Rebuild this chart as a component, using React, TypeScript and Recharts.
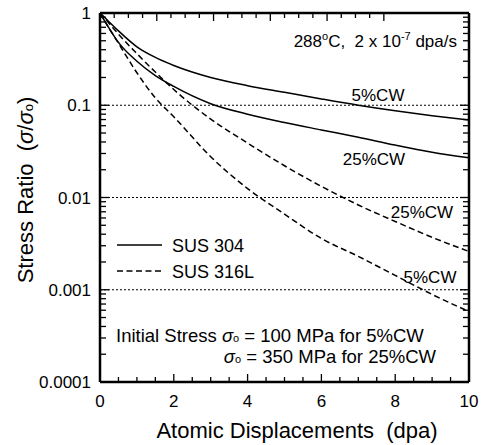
import React from 'react';
import { LineChart, Line, XAxis, YAxis, ReferenceLine } from 'recharts';

// Atomic displacements (dpa)
const dpa = [0, 0.25, 0.5, 1, 1.5, 2, 3, 4, 5, 6, 7, 8, 9, 10];
// Stress ratio σ/σo
const sus304_5cw = [1, 0.8, 0.64, 0.43, 0.33, 0.27, 0.2, 0.163, 0.138, 0.117, 0.1, 0.087, 0.077, 0.069];
const sus304_25cw = [1, 0.68, 0.48, 0.3, 0.21, 0.16, 0.104, 0.08, 0.065, 0.054, 0.045, 0.037, 0.031, 0.027];
const sus316l_25cw = [1, 0.77, 0.59, 0.363, 0.229, 0.148, 0.0708, 0.0389, 0.0221, 0.0132, 0.0083, 0.0055, 0.0037, 0.0026];
const sus316l_5cw = [1, 0.68, 0.47, 0.225, 0.12, 0.075, 0.0277, 0.0125, 0.0066, 0.0036, 0.0023, 0.00143, 0.00089, 0.00058];

const xTicks = [0, 0.5, 1, 1.5, 2, 2.5, 3, 3.5, 4, 4.5, 5, 5.5, 6, 6.5, 7, 7.5, 8, 8.5, 9, 9.5, 10];
const xLabels = [0, 2, 4, 6, 8, 10];
const yMajor = [0.0001, 0.001, 0.01, 0.1, 1];
const yLabels = ['0.0001', '0.001', '0.01', '0.1', '1'];
const yMinor = [
  0.0002, 0.0003, 0.0004, 0.0005, 0.0006, 0.0007, 0.0008, 0.0009,
  0.002, 0.003, 0.004, 0.005, 0.006, 0.007, 0.008, 0.009,
  0.02, 0.03, 0.04, 0.05, 0.06, 0.07, 0.08, 0.09,
  0.2, 0.3, 0.4, 0.5, 0.6, 0.7, 0.8, 0.9,
];
const dottedLevels = [0.1, 0.01, 0.001];

const data = dpa.map((x, i) => ({
  x,
  a: sus304_5cw[i],
  b: sus304_25cw[i],
  c: sus316l_25cw[i],
  d: sus316l_5cw[i],
}));

const yTicks = [...yMajor, ...yMinor].sort((p, q) => p - q);

const FONT = '"Liberation Sans", Arial, Helvetica, sans-serif';
const TICK = '#000';
const TW = 1.3;

const isMajorY = (v: number) => yMajor.some((m) => Math.abs(m - v) / m < 1e-6);

const bottomTick = (props: any) => {
  const x = Number(props.x);
  const y = Number(props.y);
  const v = props.payload.value;
  const major = xLabels.includes(v);
  return (
    <g key={`b${v}`}>
      <path d={`M${x},${y}V${y - (major ? 8 : 5)}`} stroke={TICK} strokeWidth={TW} fill="none" />
      {major && (
        <text x={x} y={y + 25} textAnchor="middle" fontSize={17} fontFamily={FONT} fill="#000">
          {v}
        </text>
      )}
    </g>
  );
};

const topTick = (props: any) => {
  const x = Number(props.x);
  const y = Number(props.y);
  const major = xLabels.includes(props.payload.value);
  return <path key={`t${props.payload.value}`} d={`M${x},${y}V${y + (major ? 8 : 5)}`} stroke={TICK} strokeWidth={TW} fill="none" />;
};

const leftTick = (props: any) => {
  const x = Number(props.x);
  const y = Number(props.y);
  const v = props.payload.value;
  const major = isMajorY(v);
  const idx = yMajor.findIndex((m) => Math.abs(m - v) / m < 1e-6);
  return (
    <g key={`l${v}`}>
      <path d={`M${x},${y}H${x + (major ? 9 : 6)}`} stroke={TICK} strokeWidth={TW} fill="none" />
      {major && (
        <text x={x - 9} y={y + 6} textAnchor="end" fontSize={17} fontFamily={FONT} fill="#000">
          {yLabels[idx]}
        </text>
      )}
    </g>
  );
};

const rightTick = (props: any) => {
  const x = Number(props.x);
  const y = Number(props.y);
  const major = isMajorY(props.payload.value);
  return <path key={`r${props.payload.value}`} d={`M${x},${y}H${x - (major ? 9 : 6)}`} stroke={TICK} strokeWidth={TW} fill="none" />;
};

const axisLine = { stroke: '#000', strokeWidth: 2.5 };

export default function App() {
  return (
    <div style={{ position: 'absolute', left: 0, top: 0, width: 488, height: 445, background: '#fff' }}>
      <LineChart width={488} height={445} data={data} margin={{ top: 0, right: 0, bottom: 0, left: 0 }}>
        <XAxis
          dataKey="x"
          type="number"
          domain={[0, 10]}
          ticks={xTicks}
          interval={0}
          height={63}
          tickSize={0}
          tickMargin={0}
          tickLine={false}
          axisLine={axisLine}
          tick={bottomTick}
        />
        <XAxis
          xAxisId="top"
          orientation="top"
          type="number"
          domain={[0, 10]}
          ticks={xTicks}
          interval={0}
          height={13}
          tickSize={0}
          tickMargin={0}
          tickLine={false}
          axisLine={axisLine}
          tick={topTick}
        />
        <YAxis
          type="number"
          scale="log"
          domain={[0.0001, 1]}
          allowDataOverflow
          ticks={yTicks}
          interval={0}
          width={100}
          tickSize={0}
          tickMargin={0}
          tickLine={false}
          axisLine={axisLine}
          tick={leftTick}
        />
        <YAxis
          yAxisId="right"
          orientation="right"
          type="number"
          scale="log"
          domain={[0.0001, 1]}
          allowDataOverflow
          ticks={yTicks}
          interval={0}
          width={19}
          tickSize={0}
          tickMargin={0}
          tickLine={false}
          axisLine={axisLine}
          tick={rightTick}
        />
        {dottedLevels.map((lv) => (
          <ReferenceLine key={lv} y={lv} stroke="#000" strokeWidth={1} strokeDasharray="2 2" />
        ))}
        <Line dataKey="a" type="monotone" stroke="#000" strokeWidth={1.5} dot={false} isAnimationActive={false} />
        <Line dataKey="b" type="monotone" stroke="#000" strokeWidth={1.5} dot={false} isAnimationActive={false} />
        <Line dataKey="c" type="monotone" stroke="#000" strokeWidth={1.5} strokeDasharray="6 3.5" dot={false} isAnimationActive={false} />
        <Line dataKey="d" type="monotone" stroke="#000" strokeWidth={1.5} strokeDasharray="6 3.5" dot={false} isAnimationActive={false} />
      </LineChart>
      <svg
        width={488}
        height={445}
        style={{ position: 'absolute', left: 0, top: 0, pointerEvents: 'none' }}
        fontFamily={FONT}
        fill="#000"
      >
        <text transform="translate(33,190) rotate(-90)" textAnchor="middle" fontSize={22} style={{ whiteSpace: 'pre' }}>
          {'Stress Ratio  ('}
          <tspan fontStyle="italic">σ</tspan>
          {'/'}
          <tspan fontStyle="italic">σ</tspan>
          <tspan fontSize={13}>o</tspan>
          {')'}
        </text>
        <text x={297} y={438} textAnchor="middle" fontSize={22} style={{ whiteSpace: 'pre' }}>
          {'Atomic Displacements  (dpa)'}
        </text>
        <text x={457} y={47} textAnchor="end" fontSize={17} style={{ whiteSpace: 'pre' }}>
          {'288'}
          <tspan fontSize={11} dy={-7}>o</tspan>
          <tspan dy={7}>{'C,  2 x 10'}</tspan>
          <tspan fontSize={11} dy={-7}>-7</tspan>
          <tspan dy={7}>{' dpa/s'}</tspan>
        </text>
        <text x={378} y={101} textAnchor="middle" fontSize={17}>5%CW</text>
        <text x={374} y={165} textAnchor="middle" fontSize={17}>25%CW</text>
        <text x={422} y={218} textAnchor="middle" fontSize={17}>25%CW</text>
        <text x={430} y={283} textAnchor="middle" fontSize={17}>5%CW</text>
        <line x1={117} x2={162} y1={245} y2={245} stroke="#000" strokeWidth={1.5} />
        <text x={172} y={252} fontSize={18}>SUS 304</text>
        <line x1={117} x2={162} y1={271} y2={271} stroke="#000" strokeWidth={1.5} strokeDasharray="6 3.5" />
        <text x={172} y={278} fontSize={18}>SUS 316L</text>
        <text x={116} y={342} fontSize={18.5} style={{ whiteSpace: 'pre' }}>
          {'Initial Stress '}
          <tspan fontStyle="italic">σ</tspan>
          <tspan fontSize={11}>o</tspan>
          {' = 100 MPa for 5%CW'}
        </text>
        <text x={436} y={363} textAnchor="end" fontSize={18.5} style={{ whiteSpace: 'pre' }}>
          <tspan fontStyle="italic">σ</tspan>
          <tspan fontSize={11}>o</tspan>
          {' = 350 MPa for 25%CW'}
        </text>
      </svg>
    </div>
  );
}
